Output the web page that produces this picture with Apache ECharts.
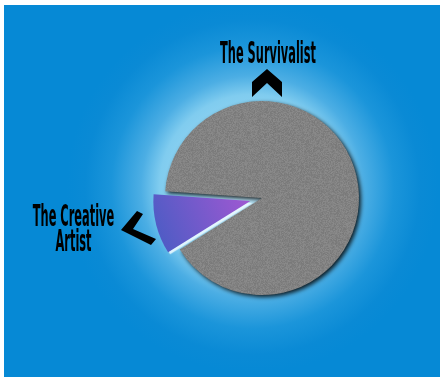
<!DOCTYPE html>
<html><head><meta charset="utf-8">
<script src="https://cdn.jsdelivr.net/npm/echarts@6/dist/echarts.min.js"></script>
<style>html,body{margin:0;padding:0;background:#fff}#c{width:440px;height:377px}</style>
</head><body><div id="c"></div>
<script>
// ---- data ----
const categories = ['The Survivalist', 'The Creative Artist'];
const values = [90, 10];
const labelLines = [['The Survivalist'], ['The Creative', 'Artist']];

// ---- styling helpers ----
function grainCanvas(base, amp) {
  const n = 96, cv = document.createElement('canvas');
  cv.width = n; cv.height = n;
  const g = cv.getContext('2d'), img = g.createImageData(n, n);
  for (let y = 0; y < n; y++) for (let x = 0; x < n; x++) {
    let h = Math.imul(x, 374761393) + Math.imul(y, 668265263);
    h = Math.imul(h ^ (h >>> 13), 1274126177); h ^= h >>> 16;
    const v = base + ((h >>> 0) % (2 * amp + 1)) - amp;
    const i = (y * n + x) * 4;
    img.data[i] = v; img.data[i + 1] = v; img.data[i + 2] = v; img.data[i + 3] = 255;
  }
  g.putImageData(img, 0, 0);
  return cv;
}
const FONT = '"DejaVu Sans Condensed", "DejaVu Sans", sans-serif';
const FS = 27;
const mctx = document.createElement('canvas').getContext('2d');
mctx.font = 'bold ' + FS + 'px ' + FONT;
const sx = 96 / mctx.measureText(labelLines[0][0]).width;

function label(text, x, y) {
  return { type: 'text', x: x, y: y, scaleX: sx, scaleY: 1.12, z: 10,
    style: { text: text, fill: '#000', font: 'bold ' + FS + 'px ' + FONT,
             align: 'center', verticalAlign: 'middle' } };
}

const chart = echarts.init(document.getElementById('c'), null, { renderer: 'canvas' });
chart.setOption({
  animation: false,
  backgroundColor: '#ffffff',
  graphic: [
    { type: 'rect', z: -10, shape: { x: 4, y: 5, width: 436, height: 372 },
      style: { fill: { type: 'radial', x: 0.57, y: 0.49, r: 0.5, colorStops: [
        { offset: 0, color: '#c0e8f9' },
        { offset: 0.5, color: '#80ccef' },
        { offset: 0.6, color: '#4caee4' },
        { offset: 0.76, color: '#1b95da' },
        { offset: 0.9, color: '#0a8ad5' },
        { offset: 1, color: '#0689d5' } ] } } },
    label(labelLines[0][0], 268, 55.5),
    label(labelLines[1][0], 73.5, 218),
    label(labelLines[1][1], 73.5, 243),
    { type: 'polygon', z: 10, shape: { points: [[252,82],[267,69],[282,82],[282,97],[267,83],[252,97]] },
      style: { fill: '#000' } },
    { type: 'polygon', z: 10, shape: { points: [[137,211],[143,214],[133,229],[156,239],[151,245],[121,230]] },
      style: { fill: '#000' } }
  ],
  series: [{
    type: 'pie',
    center: [262, 198],
    radius: [0, 97],
    startAngle: 176,
    clockwise: true,
    selectedMode: 'single',
    selectedOffset: 12,
    silent: true,
    label: { show: false },
    labelLine: { show: false },
    data: [
      { name: categories[0], value: values[0],
        itemStyle: { color: { image: grainCanvas(130, 9), repeat: 'repeat' },
          shadowColor: 'rgba(0,0,0,0.85)', shadowBlur: 4, shadowOffsetX: 2, shadowOffsetY: 2 } },
      { name: categories[1], value: values[1], selected: true,
        itemStyle: { color: { type: 'linear', x: 0, y: 0.8, x2: 1, y2: 0.1, colorStops: [
            { offset: 0, color: '#4a5cc4' }, { offset: 1, color: '#a058d2' } ] },
          shadowColor: 'rgba(235,250,255,0.9)', shadowBlur: 1, shadowOffsetX: 2, shadowOffsetY: 2 } }
    ]
  }]
});
</script></body></html>
